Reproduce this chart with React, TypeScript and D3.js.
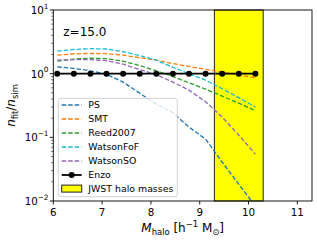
import React from "react";
import * as d3 from "d3";

// log10 halo mass grid
const massBins = [6.08, 6.42, 6.76, 7.09, 7.43, 7.77, 8.11, 8.45, 8.78, 9.12, 9.46, 9.8, 10.14];
const psRatio = [1.28, 1.21, 1.11, 0.98, 0.736, 0.494, 0.332, 0.244, 0.145, 0.0937, 0.0408, 0.0184, 0.0083];
const smtRatio = [1.95, 2.04, 2.08, 2.06, 1.95, 1.78, 1.63, 1.44, 1.3, 1.17, 1.06, 0.955, 0.865];
const reedRatio = [1.57, 1.69, 1.75, 1.72, 1.57, 1.34, 1.11, 0.9, 0.72, 0.571, 0.443, 0.344, 0.262];
const watsonFoFRatio = [2.26, 2.4, 2.47, 2.44, 2.21, 1.92, 1.63, 1.26, 1.0, 0.79, 0.58, 0.42, 0.298];
const watsonSORatio = [1.63, 1.66, 1.66, 1.6, 1.41, 1.16, 0.965, 0.736, 0.551, 0.363, 0.208, 0.108, 0.0545];
const enzoRatio = [1, 1, 1, 1, 1, 1, 1, 1, 1, 1, 1, 1, 1];
const jwstRange = [9.3, 10.3];
const xTicks = [6, 7, 8, 9, 10, 11];
const yTickExps = [1, 0, -1, -2];

const seriesNames = ["PS", "SMT", "Reed2007", "WatsonFoF", "WatsonSO"];
const seriesValues = [psRatio, smtRatio, reedRatio, watsonFoFRatio, watsonSORatio];
const seriesColors = ["#1f77b4", "#ff7f0e", "#2ca02c", "#17becf", "#9467bd"];

const W = 317, H = 241;
const L = 53.3, R = 312, T = 10, B = 201;
const FONT = "DejaVu Sans, sans-serif";

export default function App() {
  const x = d3.scaleLinear().domain([6, 11.3]).range([L, R]);
  const y = d3.scaleLog().domain([0.01, 10]).range([B, T]);
  const line = d3
    .line<[number, number]>()
    .x((d) => x(d[0]))
    .y((d) => y(d[1]));
  const pts = (vals: number[]) => massBins.map((m, i) => [m, vals[i]] as [number, number]);

  const minor: number[] = [];
  for (let e = -2; e < 1; e++) for (let k = 2; k < 10; k++) minor.push(k * Math.pow(10, e));

  const legendRows = [105, 119, 133, 147, 161, 175, 188.6];
  const hx0 = 61.7, hx1 = 81.7, tx = 88.3;

  return (
    <svg width={W} height={H} style={{ position: "absolute", left: 0, top: 0, background: "#fff" }} fontFamily={FONT}>
      <defs>
        <clipPath id="plot">
          <rect x={L} y={T} width={R - L} height={B - T} />
        </clipPath>
      </defs>
      <rect x={0} y={0} width={W} height={H} fill="#fff" />
      {/* JWST band */}
      <rect
        x={x(jwstRange[0])}
        y={T}
        width={x(jwstRange[1]) - x(jwstRange[0])}
        height={B - T}
        fill="#ffff00"
        stroke="#222"
        strokeWidth={1}
      />
      <g clipPath="url(#plot)">
        {seriesValues.map((vals, i) => (
          <path
            key={seriesNames[i]}
            d={line(pts(vals)) || ""}
            fill="none"
            stroke={seriesColors[i]}
            strokeWidth={1.3}
            strokeDasharray="4.5,2"
          />
        ))}
        <path d={line(pts(enzoRatio)) || ""} fill="none" stroke="#000" strokeWidth={1.8} />
        {massBins.map((m, i) => (
          <circle key={i} cx={x(m)} cy={y(enzoRatio[i])} r={3} fill="#000" />
        ))}
      </g>
      {/* frame */}
      <rect x={L} y={T} width={R - L} height={B - T} fill="none" stroke="#000" strokeWidth={0.9} />
      {/* x ticks */}
      {xTicks.map((t) => (
        <g key={t}>
          <line x1={x(t)} x2={x(t)} y1={B} y2={B + 3.5} stroke="#000" strokeWidth={0.9} />
          <text x={x(t)} y={216} fontSize={10.3} textAnchor="middle" fill="#000">
            {t}
          </text>
        </g>
      ))}
      {/* y ticks */}
      {minor.map((v, i) => (
        <line key={i} x1={L - 2} x2={L} y1={y(v)} y2={y(v)} stroke="#000" strokeWidth={0.6} />
      ))}
      {yTickExps.map((e) => {
        const yy = y(Math.pow(10, e));
        return (
          <g key={e}>
            <line x1={L - 3.5} x2={L} y1={yy} y2={yy} stroke="#000" strokeWidth={0.9} />
            <text x={48.5} y={yy + 4} fontSize={10.3} textAnchor="end" fill="#000">
              10
              <tspan fontSize={7.3} dy={-5.5}>
                {e < 0 ? "\u2212" + Math.abs(e) : String(e)}
              </tspan>
            </text>
          </g>
        );
      })}
      {/* z label */}
      <text x={63.3} y={36} fontSize={12} fill="#000">
        z=15.0
      </text>
      {/* axis labels */}
      <text x={(L + R) / 2} y={232} fontSize={12} textAnchor="middle" fill="#000">
        <tspan fontStyle="italic">M</tspan>
        <tspan fontSize={8.4} dy={2.5}>halo</tspan>
        <tspan dy={-2.5}> [h</tspan>
        <tspan fontSize={8.4} dy={-5}>{"\u22121"}</tspan>
        <tspan dy={5}> M</tspan>
        <tspan fontSize={8.4} dy={2.5}>{"\u2299"}</tspan>
        <tspan dy={-2.5}>]</tspan>
      </text>
      <text transform={`translate(15,${(T + B) / 2}) rotate(-90)`} fontSize={12} textAnchor="middle" fill="#000">
        <tspan fontStyle="italic">n</tspan>
        <tspan fontSize={8.4} dy={2.5}>fit</tspan>
        <tspan dy={-2.5}>/</tspan>
        <tspan fontStyle="italic">n</tspan>
        <tspan fontSize={8.4} dy={2.5}>sim</tspan>
      </text>
      {/* legend */}
      <rect x={58.3} y={98.3} width={119} height={98.4} rx={2.5} fill="#fff" fillOpacity={0.8} stroke="#ccc" strokeWidth={0.9} />
      {seriesNames.map((n, i) => (
        <g key={n}>
          <line x1={hx0} x2={hx1} y1={legendRows[i]} y2={legendRows[i]} stroke={seriesColors[i]} strokeWidth={1.3} strokeDasharray="4.5,2" />
          <text x={tx} y={legendRows[i] + 3.4} fontSize={9.4} fill="#000">
            {n}
          </text>
        </g>
      ))}
      <line x1={hx0} x2={hx1} y1={legendRows[5]} y2={legendRows[5]} stroke="#000" strokeWidth={1.8} />
      <circle cx={(hx0 + hx1) / 2} cy={legendRows[5]} r={3} fill="#000" />
      <text x={tx} y={legendRows[5] + 3.4} fontSize={9.4} fill="#000">
        Enzo
      </text>
      <rect x={hx0} y={legendRows[6] - 3.5} width={hx1 - hx0} height={7} fill="#ffff00" stroke="#222" strokeWidth={1} />
      <text x={tx} y={legendRows[6] + 3.4} fontSize={9.4} fill="#000">
        JWST halo masses
      </text>
    </svg>
  );
}
